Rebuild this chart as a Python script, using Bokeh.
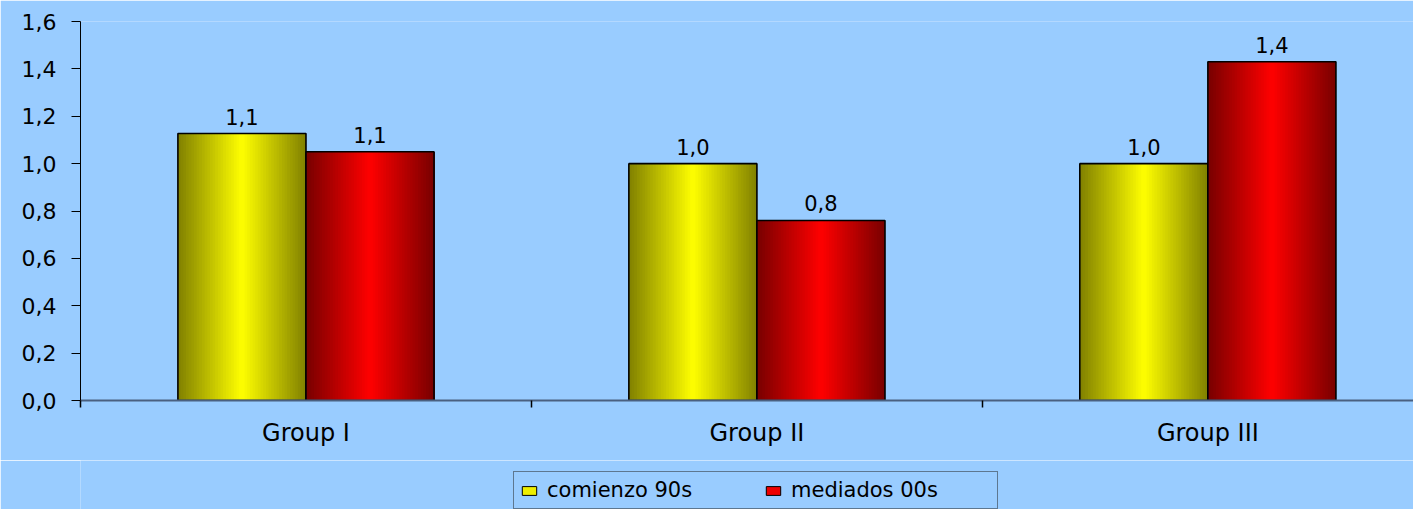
import numpy as np
from bokeh.plotting import figure
from bokeh.layouts import column
from bokeh.models import (Range1d, FixedTicker, CustomJSTickFormatter, Legend,
                          LegendItem, ColumnDataSource)
from bokeh.embed import file_html
from bokeh.resources import INLINE
from bokeh.core.properties import value

# ---------------- data ----------------
categories = ["Group I", "Group II", "Group III"]
series_names = ["comienzo 90s", "mediados 00s"]
comienzo_90s = [1.127, 1.00, 1.00]
mediados_00s = [1.05, 0.76, 1.43]
y_ticks = [0.0, 0.2, 0.4, 0.6, 0.8, 1.0, 1.2, 1.4, 1.6]

# ---------------- style ----------------
BG = "#99CCFF"
FONT = "DejaVu Sans"
BAR_W = 0.284
OFFSETS = [-0.142, 0.142]
DARK = [(128, 128, 0), (120, 0, 0)]
BRIGHT = [(255, 255, 0), (255, 0, 0)]
LEG_COLORS = ["#EEEE00", "#EE0000"]
N_STRIPS = 48

W = 1413
H1, H2 = 460, 49
p = figure(width=W, height=H1, x_range=Range1d(0, 2.956), y_range=Range1d(0, 1.6),
           output_backend="svg", toolbar_location=None,
           min_border_left=80, min_border_top=21, min_border_right=0,
           min_border_bottom=60)
p.background_fill_color = BG
p.border_fill_color = BG
p.outline_line_color = None
p.grid.visible = False

# y axis
ya = p.yaxis[0]
ya.ticker = FixedTicker(ticks=y_ticks)
ya.formatter = CustomJSTickFormatter(code="return tick.toFixed(1).replace('.', ',');")
ya.major_tick_out = 9
ya.major_tick_in = 0
ya.minor_tick_line_color = None
ya.axis_line_color = "black"
ya.major_tick_line_color = "black"
ya.major_label_text_font = FONT
ya.major_label_text_font_size = "22px"
ya.major_label_text_color = "black"
ya.major_label_standoff = 15

# x axis
xa = p.xaxis[0]
centers = [i + 0.5 for i in range(len(categories))]
xa.ticker = FixedTicker(ticks=centers, minor_ticks=[0, 1, 2, 3])
xa.major_label_overrides = {c: lab for c, lab in zip(centers, categories)}
xa.major_tick_out = 0
xa.major_tick_in = 0
xa.major_tick_line_color = None
xa.minor_tick_out = 7
xa.minor_tick_in = 0
xa.minor_tick_line_color = "black"
xa.minor_tick_line_width = 1.5
xa.axis_line_color = "#4a6080"
xa.axis_line_width = 2
xa.major_label_text_font = FONT
xa.major_label_text_font_size = "24px"
xa.major_label_text_color = "black"
xa.major_label_standoff = 11

for s, vals in enumerate([comienzo_90s, mediados_00s]):
    xs = [c + OFFSETS[s] for c in centers]
    # gradient strips
    lefts, rights, tops, colors = [], [], [], []
    d, b = DARK[s], BRIGHT[s]
    for x, v in zip(xs, vals):
        x0 = x - BAR_W / 2
        x1 = x + BAR_W / 2
        dw = BAR_W / N_STRIPS
        for k in range(N_STRIPS):
            t = (k + 0.5) / N_STRIPS
            f = 1 - abs(2 * t - 1)
            c = tuple(int(round(d[j] + (b[j] - d[j]) * f)) for j in range(3))
            lefts.append(x0 + k * dw)
            rights.append(x1)
            tops.append(v)
            colors.append("#%02x%02x%02x" % c)
    src = ColumnDataSource(dict(left=lefts, right=rights, top=tops,
                                bottom=[0] * len(tops), color=colors))
    p.quad(left="left", right="right", top="top", bottom="bottom",
           fill_color="color", line_color=None, source=src)
    # outline
    p.vbar(x=xs, top=vals, width=BAR_W, bottom=0, fill_color=None,
           line_color="black", line_width=1.6)
    # data labels
    labels = [("%.1f" % v).replace(".", ",") for v in vals]
    p.text(x=xs, y=vals, text=labels, text_align="center",
           text_baseline="alphabetic", y_offset=-17,
           text_font=value(FONT), text_font_size="21px", text_color="black")

# ---------------- legend strip ----------------
lg = figure(width=W, height=H2, x_range=Range1d(0, 1), y_range=Range1d(0, 1),
            output_backend="svg", toolbar_location=None,
            x_axis_location=None, y_axis_location=None,
            min_border_left=80, min_border_right=0, min_border_top=0,
            min_border_bottom=0)
lg.background_fill_color = BG
lg.border_fill_color = BG
lg.outline_line_color = None
lg.grid.visible = False

items = []
for s in range(len(series_names)):
    # off-screen swatch source used only for the legend glyph
    r = lg.vbar(x=[-50], top=[-50], bottom=[-60], width=0.1,
                fill_color=LEG_COLORS[s], line_color="black", line_width=1)
    items.append(LegendItem(label=series_names[s], renderers=[r]))

legend = Legend(items=items, orientation="horizontal",
                location=(433, 0), margin=0, padding=6,
                glyph_width=18, glyph_height=11, label_standoff=9,
                spacing=17, label_width=200,
                label_text_font=FONT, label_text_font_size="21px",
                label_text_color="black",
                border_line_color="#222222", border_line_width=1,
                background_fill_color=BG, background_fill_alpha=1.0)
lg.add_layout(legend, "center")

layout = column(p, lg, spacing=0)
open("out.html", "w").write(file_html(layout, INLINE))
